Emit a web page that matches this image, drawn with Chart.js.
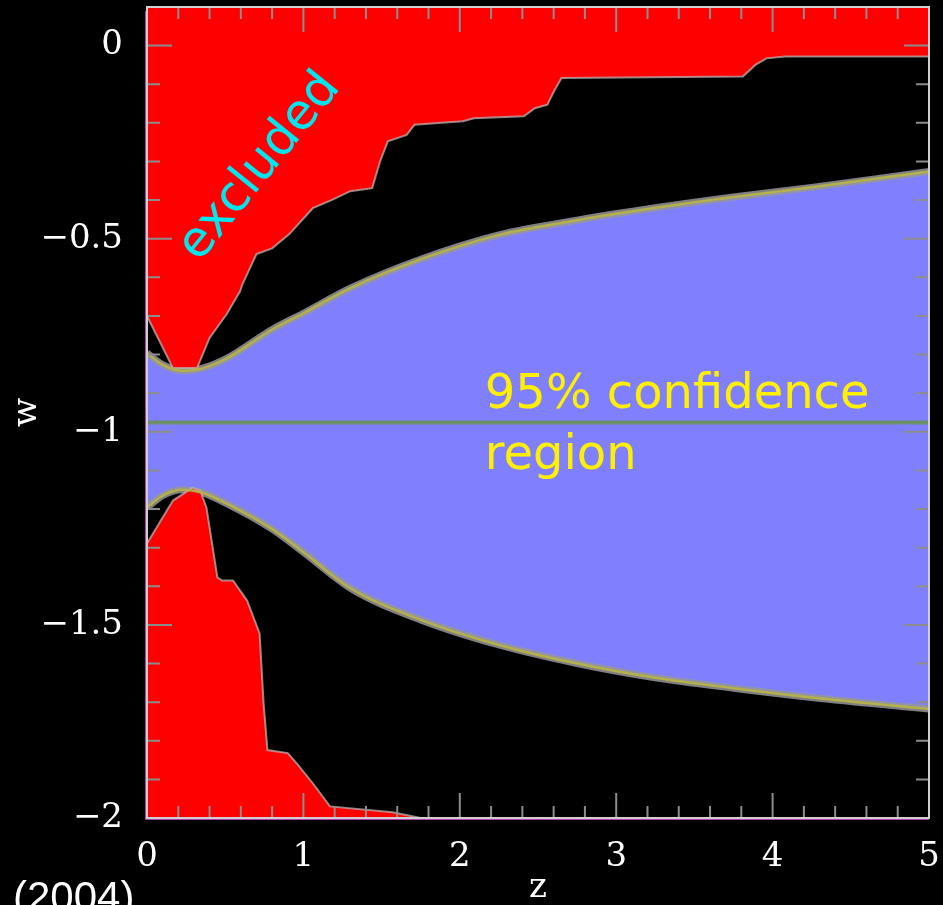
<!DOCTYPE html>
<html>
<head>
<meta charset="utf-8">
<script src="https://cdn.jsdelivr.net/npm/chart.js@4.4.1/dist/chart.umd.min.js"></script>
<style>
  html, body { margin: 0; padding: 0; background: #000; }
  #wrap { width: 943px; height: 905px; }
</style>
</head>
<body>
<div id="wrap"><canvas id="wchart" width="943" height="905"></canvas></div>
<script>
// edges of the 95% confidence band, on a shared redshift grid
const bandZ     = [0, 0.1, 0.23, 0.35, 0.5, 0.8, 1.0, 1.3, 1.75, 2.25, 2.75, 3.25, 3.75, 4.25, 5];
const bandUpper = [-0.796, -0.826, -0.842, -0.836, -0.812, -0.735, -0.693, -0.628, -0.553, -0.490, -0.452, -0.420, -0.392, -0.367, -0.326];
const bandLower = [-1.196, -1.165, -1.150, -1.157, -1.184, -1.252, -1.312, -1.405, -1.487, -1.552, -1.600, -1.637, -1.664, -1.688, -1.718];

// best fit line through the middle
const bestFitZ = [0, 5];
const bestFitW = [-0.976, -0.976];

// excluded regions (red): lower edge of the top one, upper edge of the bottom one
const excludedTopZ = [0, 0.166, 0.32, 0.40, 0.51, 0.595, 0.61, 0.70, 0.80, 0.91, 1.06, 1.18, 1.30, 1.44, 1.49, 1.54, 1.66, 1.71, 2.02, 2.09, 2.41, 2.48, 2.56, 2.60, 2.65, 3.81, 3.89, 3.96, 4.08, 5.0];
const excludedTopW = [-0.70, -0.835, -0.835, -0.757, -0.695, -0.636, -0.618, -0.54, -0.525, -0.488, -0.421, -0.40, -0.377, -0.369, -0.30, -0.248, -0.231, -0.205, -0.196, -0.188, -0.183, -0.162, -0.153, -0.12, -0.084, -0.080, -0.05, -0.033, -0.028, -0.028];
const excludedBottomZ = [0, 0.166, 0.29, 0.34, 0.38, 0.45, 0.48, 0.55, 0.64, 0.72, 0.745, 0.77, 0.90, 0.96, 1.06, 1.17, 1.57, 1.75];
const excludedBottomW = [-1.289, -1.178, -1.145, -1.152, -1.196, -1.377, -1.385, -1.385, -1.437, -1.522, -1.70, -1.824, -1.832, -1.86, -1.91, -1.97, -1.985, -2.0];

const xTickValues = [0, 1, 2, 3, 4, 5];
const yTickValues = [0, -0.5, -1, -1.5, -2];
const xMinorStep = 0.2;
const yMinorStep = 0.1;

const pts = (zs, ws) => zs.map((z, i) => ({ x: z, y: ws[i] }));

const fmtW = (v) => {
  if (v === 0) return '0';
  return (v < 0 ? '\u2212' : '') + Math.abs(v);
};

const serif = 'DejaVu Serif';
const comic = '"Comic Sans MS", "DejaVu Sans", sans-serif';

// ticks point inward on all four sides, so they're drawn by hand
const frameAndTicks = {
  id: 'frameAndTicks',
  beforeDraw(chart) {
    const ctx = chart.ctx;
    ctx.save();
    ctx.fillStyle = '#000';
    ctx.fillRect(0, 0, chart.width, chart.height);
    ctx.restore();
  },
  afterDatasetsDraw(chart) {
    const { ctx, chartArea: a, scales: { x, y } } = chart;
    ctx.save();
    ctx.strokeStyle = '#8c8c8c';
    ctx.lineWidth = 2;
    ctx.beginPath();
    const nx = Math.round((x.max - x.min) / xMinorStep);
    for (let i = 1; i < nx; i++) {
      const v = x.min + i * xMinorStep;
      const px = x.getPixelForValue(v);
      const len = (i % 5 === 0) ? 25 : 12;
      ctx.moveTo(px, a.bottom); ctx.lineTo(px, a.bottom - len);
      ctx.moveTo(px, a.top); ctx.lineTo(px, a.top + len);
    }
    const ny = Math.round((0 - y.min) / yMinorStep);
    for (let i = 1; i <= ny; i++) {
      const v = y.min + i * yMinorStep;
      const py = y.getPixelForValue(v);
      const len = (i % 5 === 0) ? 25 : 13;
      ctx.moveTo(a.left, py); ctx.lineTo(a.left + len, py);
      ctx.moveTo(a.right, py); ctx.lineTo(a.right - len, py);
    }
    ctx.stroke();

    ctx.strokeStyle = '#cfcfcf';
    ctx.lineWidth = 2;
    ctx.strokeRect(a.left, a.top, a.right - a.left, a.bottom - a.top);
    ctx.strokeStyle = '#b040b0';
    ctx.lineWidth = 1;
    ctx.beginPath();
    ctx.moveTo(a.left - 1.5, a.top + 4); ctx.lineTo(a.left - 1.5, a.bottom + 1.5);
    ctx.lineTo(a.right, a.bottom + 1.5);
    ctx.stroke();
    ctx.restore();
  },
  afterDraw(chart) {
    const { ctx, scales: { x, y } } = chart;
    ctx.save();
    // "excluded" label, tilted along the red wedge
    ctx.translate(x.getPixelForValue(0.333), y.getPixelForValue(-0.563));
    ctx.rotate(-51 * Math.PI / 180);
    ctx.fillStyle = '#00e6f0';
    ctx.font = '50px ' + comic;
    ctx.textAlign = 'left';
    ctx.textBaseline = 'alphabetic';
    ctx.fillText('excluded', 0, 0);
    ctx.restore();

    ctx.save();
    ctx.fillStyle = '#fff000';
    ctx.font = '48px ' + comic;
    ctx.textAlign = 'left';
    ctx.textBaseline = 'alphabetic';
    const tx = x.getPixelForValue(2.16);
    ctx.fillText('95% confidence', tx, y.getPixelForValue(-0.938));
    ctx.fillText('region', tx, y.getPixelForValue(-1.096));
    ctx.restore();

    // citation year, cut off by the bottom edge
    ctx.save();
    ctx.fillStyle = '#fff';
    ctx.font = '42px "Liberation Sans", sans-serif';
    ctx.textBaseline = 'alphabetic';
    ctx.fillText('(2004)', 13, 911);
    ctx.restore();
  }
};

const ctx = document.getElementById('wchart');

new Chart(ctx, {
  type: 'line',
  data: {
    datasets: [
      {
        data: pts(bandZ, bandUpper),
        fill: { target: 1 },
        backgroundColor: '#8080ff',
        borderColor: 'rgba(150,150,150,0.85)',
        borderWidth: 7,
        cubicInterpolationMode: 'monotone',
        order: 10,
      },
      {
        data: pts(bandZ, bandLower),
        fill: false,
        borderColor: 'rgba(150,150,150,0.85)',
        borderWidth: 7,
        cubicInterpolationMode: 'monotone',
        order: 9,
      },
      {
        data: pts(excludedTopZ, excludedTopW),
        fill: 'end',
        backgroundColor: '#ff0000',
        borderColor: 'rgba(190,190,190,0.7)',
        borderWidth: 2,
        order: 8,
      },
      {
        data: pts(excludedBottomZ, excludedBottomW),
        fill: 'start',
        backgroundColor: '#ff0000',
        borderColor: 'rgba(190,190,190,0.7)',
        borderWidth: 2,
        order: 7,
      },
      {
        data: pts(bandZ, bandUpper),
        fill: false,
        borderColor: '#b4b04c',
        borderWidth: 2.5,
        cubicInterpolationMode: 'monotone',
        order: 5,
      },
      {
        data: pts(bandZ, bandLower),
        fill: false,
        borderColor: '#b4b04c',
        borderWidth: 2.5,
        cubicInterpolationMode: 'monotone',
        order: 4,
      },
      {
        data: pts(bestFitZ, bestFitW),
        fill: false,
        borderColor: '#6d8f6c',
        borderWidth: 4,
        order: 3,
      },
    ]
  },
  options: {
    responsive: false,
    animation: false,
    events: [],
    elements: {
      point: { radius: 0 },
      line: { tension: 0 },
    },
    layout: {
      padding: { top: 7, right: 14, left: 0, bottom: 0 }
    },
    plugins: {
      legend: { display: false },
      tooltip: { enabled: false },
      title: { display: false },
    },
    scales: {
      x: {
        type: 'linear',
        position: 'bottom',
        min: 0,
        max: 5,
        grid: { display: false, drawTicks: false },
        border: { display: false },
        afterBuildTicks: (s) => { s.ticks = xTickValues.map(v => ({ value: v })); },
        afterFit: (s) => {
          s.height = 87;
          s.paddingLeft = 0; s.paddingRight = 0;
        },
        ticks: {
          color: '#fff',
          padding: 19,
          maxRotation: 0,
          autoSkip: false,
          font: { family: serif, size: 34 },
        },
        title: {
          display: true,
          text: 'z',
          color: '#fff',
          padding: 0,
          font: { family: serif, size: 34, lineHeight: 1.0 },
        },
      },
      y: {
        type: 'linear',
        min: -2,
        max: 0.1,
        grid: { display: false, drawTicks: false },
        border: { display: false },
        afterBuildTicks: (s) => { s.ticks = yTickValues.map(v => ({ value: v })); },
        afterFit: (s) => {
          s.width = 147;
          s.paddingTop = 0; s.paddingBottom = 0;
        },
        ticks: {
          color: '#fff',
          padding: 24,
          autoSkip: false,
          font: { family: serif, size: 34 },
          callback: (v) => fmtW(v),
        },
        title: {
          display: true,
          text: 'w',
          color: '#fff',
          padding: { top: 7, bottom: 0 },
          font: { family: serif, size: 34 },
        },
      },
    },
  },
  plugins: [frameAndTicks],
});
</script>
</body>
</html>
